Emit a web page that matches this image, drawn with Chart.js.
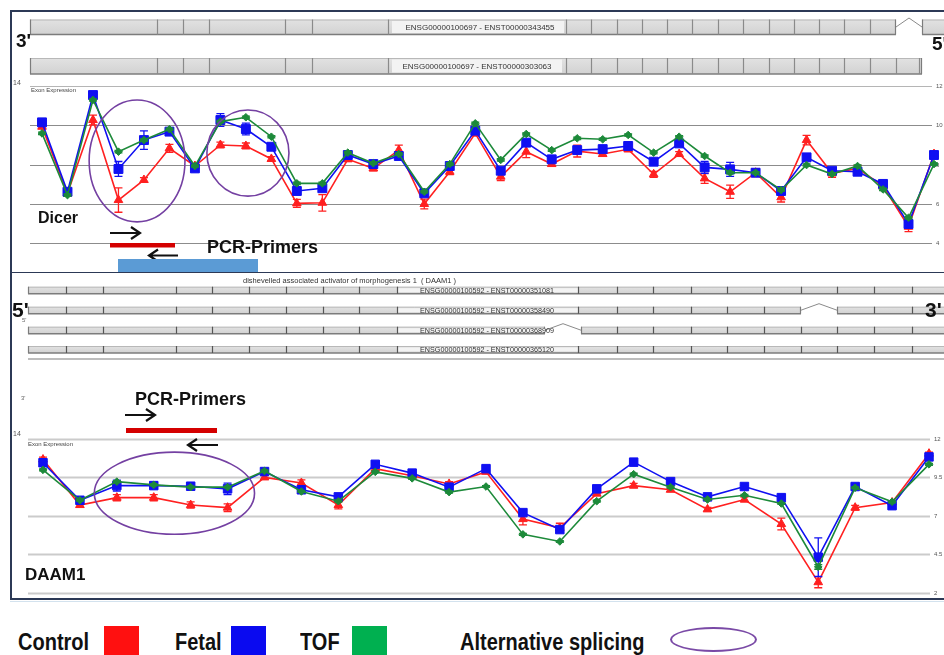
<!DOCTYPE html>
<html>
<head>
<meta charset="utf-8">
<script src="https://cdn.jsdelivr.net/npm/chart.js@4/dist/chart.umd.min.js"></script>
<style>
  html, body { margin: 0; padding: 0; background: #fff; }
  body { width: 944px; height: 655px; position: relative; overflow: hidden; font-family: "Liberation Sans", Arial, sans-serif; }
  canvas { position: absolute; left: 0; }
  #dicerCanvas { top: 0; }
  #daamCanvas { top: 272px; }
  .rule { position: absolute; background: #2c3956; z-index: 5; }
  .lg { position: absolute; top: 631px; font-weight: bold; font-size: 20px; line-height: 24px; color: #111; white-space: nowrap;
        transform: scale(1, 1.15); transform-origin: 0 19px; }
  .sw { position: absolute; top: 626px; width: 35px; height: 29px; }
  .oval { position: absolute; left: 670px; top: 627px; width: 83px; height: 21px; border: 2px solid #7a4aa6; border-radius: 50%; }
</style>
</head>
<body>
<canvas id="dicerCanvas" width="944" height="272"></canvas>
<canvas id="daamCanvas" width="944" height="328"></canvas>

<div class="rule" style="left:10px;top:10px;width:934px;height:1.5px"></div>
<div class="rule" style="left:10px;top:10px;width:1.5px;height:590px"></div>
<div class="rule" style="left:10px;top:271.5px;width:934px;height:1.5px"></div>
<div class="rule" style="left:10px;top:598px;width:934px;height:1.5px"></div>
<div style="position:absolute;left:10px;top:601px;width:934px;height:1px;background:#d3e2ee"></div>

<div class="lg" style="left:18px">Control</div>
<div class="sw" style="left:104px;background:#ff1010"></div>
<div class="lg" style="left:175px">Fetal</div>
<div class="sw" style="left:231px;background:#0a0af0"></div>
<div class="lg" style="left:300px">TOF</div>
<div class="sw" style="left:352px;background:#00b050"></div>
<div class="lg" style="left:460px">Alternative splicing</div>
<div class="oval"></div>

<script>
// ---- Dicer exon expression (36 probe sets, 3' -> 5') ----
const dicerExons = ['1','2','3','4','5','6','7','8','9','10','11','12','13','14','15','16','17','18',
                    '19','20','21','22','23','24','25','26','27','28','29','30','31','32','33','34','35','36'];
const dicerControl = [9.93, 6.54, 10.27, 6.20, 7.22, 8.83, 7.93, 9.00, 8.95, 8.29, 6.03, 6.06, 8.27, 7.81, 8.74, 6.00, 7.64, 9.59,
                      7.39, 8.66, 8.03, 8.69, 8.54, 8.78, 7.51, 8.54, 7.30, 6.62, 7.59, 6.34, 9.25, 7.56, 7.81, 6.91, 4.84, 8.54];
const dicerFetal   = [10.15, 6.62, 11.54, 7.78, 9.25, 9.68, 7.81, 10.27, 9.81, 8.91, 6.66, 6.80, 8.49, 8.03, 8.44, 6.54, 7.93, 9.73,
                      7.69, 9.12, 8.27, 8.74, 8.79, 8.95, 8.15, 9.08, 7.86, 7.76, 7.59, 6.66, 8.37, 7.69, 7.64, 7.02, 4.98, 8.49];
const dicerTOF     = [9.59, 6.45, 11.29, 8.66, 9.25, 9.80, 7.93, 10.19, 10.41, 9.42, 7.05, 7.05, 8.61, 8.07, 8.54, 6.62, 8.03, 10.10,
                      8.24, 9.56, 8.74, 9.34, 9.29, 9.51, 8.61, 9.42, 8.44, 7.59, 7.59, 6.71, 7.98, 7.52, 7.93, 6.74, 5.30, 8.03];
const dicerControlErr = [0.10, 0.10, 0.25, 0.62, 0.12, 0.20, 0.10, 0.15, 0.15, 0.12, 0.20, 0.42, 0.10, 0.12, 0.25, 0.25, 0.15, 0.12,
                         0.20, 0.30, 0.10, 0.30, 0.12, 0.12, 0.15, 0.12, 0.25, 0.34, 0.20, 0.24, 0.24, 0.20, 0.15, 0.10, 0.25, 0.10];
const dicerFetalErr   = [0.08, 0.08, 0.10, 0.38, 0.47, 0.15, 0.08, 0.32, 0.30, 0.08, 0.08, 0.10, 0.08, 0.08, 0.12, 0.08, 0.08, 0.08,
                         0.10, 0.08, 0.08, 0.08, 0.08, 0.08, 0.08, 0.08, 0.30, 0.36, 0.10, 0.08, 0.10, 0.08, 0.08, 0.08, 0.10, 0.10];
const dicerTOFErr     = [0.06, 0.06, 0.06, 0.06, 0.06, 0.06, 0.06, 0.06, 0.06, 0.06, 0.06, 0.06, 0.06, 0.06, 0.06, 0.06, 0.06, 0.06,
                         0.06, 0.06, 0.06, 0.06, 0.06, 0.06, 0.06, 0.06, 0.06, 0.06, 0.06, 0.06, 0.06, 0.06, 0.06, 0.06, 0.06, 0.06];
const dicerRightTicks = [12, 10, 8, 6, 4];

// ---- DAAM1 exon expression (25 probe sets, 5' -> 3') ----
const daamExons = ['1','2','3','4','5','6','7','8','9','10','11','12','13','14','15','16','17','18','19','20','21','22','23','24','25'];
const daamControl = [10.65, 7.70, 8.18, 8.18, 7.70, 7.53, 9.49, 9.13, 7.70, 10.06, 9.60, 9.07, 9.85,
                     6.79, 6.22, 8.44, 8.96, 8.69, 7.42, 8.06, 6.47, 2.70, 7.53, 7.87, 11.03];
const daamFetal   = [10.44, 8.01, 8.96, 8.96, 8.92, 8.75, 9.87, 8.69, 8.23, 10.34, 9.77, 8.86, 10.06,
                     7.21, 6.11, 8.75, 10.48, 9.22, 8.23, 8.90, 8.18, 4.32, 8.90, 7.66, 10.82];
const daamTOF     = [9.98, 8.01, 9.22, 9.01, 8.86, 8.86, 9.91, 8.58, 7.95, 9.85, 9.43, 8.54, 8.90,
                     5.80, 5.34, 7.95, 9.70, 8.86, 8.06, 8.33, 7.80, 3.69, 8.82, 7.91, 10.34];
const daamControlErr = [0.15, 0.12, 0.20, 0.20, 0.20, 0.25, 0.12, 0.20, 0.25, 0.12, 0.12, 0.15, 0.10,
                        0.37, 0.30, 0.10, 0.15, 0.10, 0.12, 0.15, 0.38, 0.36, 0.15, 0.10, 0.10];
const daamFetalErr   = [0.10, 0.08, 0.35, 0.20, 0.15, 0.37, 0.08, 0.08, 0.10, 0.08, 0.08, 0.10, 0.08,
                        0.08, 0.10, 0.08, 0.08, 0.08, 0.08, 0.08, 0.08, 1.25, 0.08, 0.20, 0.10];
const daamTOFErr     = [0.06, 0.06, 0.06, 0.06, 0.06, 0.06, 0.06, 0.06, 0.06, 0.06, 0.06, 0.06, 0.06,
                        0.06, 0.06, 0.06, 0.06, 0.06, 0.06, 0.06, 0.06, 0.15, 0.06, 0.06, 0.06];
const daamRightTicks = [12, 9.5, 7, 4.5, 2];

const RED = '#ff2020', BLUE = '#1010f2', GREEN = '#1d8a3a', PURPLE = '#7440a2';

function series(label, data, errors, color, style, radius, order) {
  return {
    label, data, errors, order,
    borderColor: color, backgroundColor: color,
    pointBackgroundColor: color, pointBorderColor: color,
    pointStyle: style, pointRadius: radius, pointBorderWidth: 1,
    borderWidth: 1.6, tension: 0, clip: false
  };
}

// vertical error bars with caps, drawn with each dataset
const errorBars = {
  id: 'errorBars',
  afterDatasetDraw(chart, args) {
    const ds = chart.data.datasets[args.index];
    if (!ds.errors) return;
    const y = chart.scales.y, ctx = chart.ctx;
    ctx.save();
    ctx.strokeStyle = ds.borderColor;
    ctx.lineWidth = 1.3;
    args.meta.data.forEach((pt, i) => {
      const v = ds.data[i], e = ds.errors[i];
      const yt = y.getPixelForValue(v + e), yb = y.getPixelForValue(v - e);
      ctx.beginPath();
      ctx.moveTo(pt.x, yt); ctx.lineTo(pt.x, yb);
      ctx.moveTo(pt.x - 4, yt); ctx.lineTo(pt.x + 4, yt);
      ctx.moveTo(pt.x - 4, yb); ctx.lineTo(pt.x + 4, yb);
      ctx.stroke();
    });
    ctx.restore();
  }
};

function txt(ctx, s, x, y, font, color, align) {
  ctx.font = font;
  ctx.fillStyle = color || '#111';
  ctx.textAlign = align || 'left';
  ctx.textBaseline = 'alphabetic';
  ctx.fillText(s, x, y);
}

function arrow(ctx, x0, x1, y) {
  const dir = Math.sign(x1 - x0);
  ctx.save();
  ctx.strokeStyle = '#111';
  ctx.lineWidth = 2.2;
  ctx.beginPath();
  ctx.moveTo(x0, y); ctx.lineTo(x1, y);
  ctx.moveTo(x1 - dir * 9, y - 6); ctx.lineTo(x1, y); ctx.lineTo(x1 - dir * 9, y + 6);
  ctx.stroke();
  ctx.restore();
}

// transcript model: exon boxes, intron connectors and the transcript id label
function drawTrack(ctx, t) {
  const y = t.y, h = t.h;
  const spans = [];
  let start = t.x0;
  (t.gaps || []).forEach(g => { spans.push([start, g[0]]); start = g[1]; });
  spans.push([start, t.x1]);
  ctx.save();
  spans.forEach(([a, b]) => {
    const g = ctx.createLinearGradient(0, y, 0, y + h);
    g.addColorStop(0, '#e2e2e2'); g.addColorStop(1, '#d2d2d2');
    ctx.fillStyle = g;
    ctx.fillRect(a, y, b - a, h);
    ctx.strokeStyle = '#b8b8b8'; ctx.lineWidth = 1;
    ctx.beginPath(); ctx.moveTo(a, y + 0.5); ctx.lineTo(b, y + 0.5); ctx.stroke();
    ctx.strokeStyle = '#7c7c7c'; ctx.lineWidth = 1.5;
    ctx.beginPath(); ctx.moveTo(a, y + h); ctx.lineTo(b, y + h); ctx.stroke();
    ctx.lineWidth = 1.2;
    ctx.beginPath(); ctx.moveTo(a + 0.5, y); ctx.lineTo(a + 0.5, y + h);
    ctx.moveTo(b - 0.5, y); ctx.lineTo(b - 0.5, y + h); ctx.stroke();
  });
  (t.gaps || []).forEach(([a, b]) => {
    ctx.strokeStyle = '#8a8a8a'; ctx.lineWidth = 1;
    ctx.beginPath(); ctx.moveTo(a, y + h / 2); ctx.lineTo((a + b) / 2, t.peak); ctx.lineTo(b, y + h / 2); ctx.stroke();
  });
  if (t.label) {
    ctx.fillStyle = '#f3f3f3';
    ctx.fillRect(t.lx0, y + 1.5, t.lx1 - t.lx0, h - 3);
  }
  ctx.strokeStyle = t.cutColor; ctx.lineWidth = 1.2;
  t.cuts.forEach(c => {
    if (t.label && c > t.lx0 && c < t.lx1) return;
    if ((t.gaps || []).some(g => c >= g[0] && c <= g[1])) return;
    ctx.beginPath(); ctx.moveTo(c + 0.5, y); ctx.lineTo(c + 0.5, y + h); ctx.stroke();
  });
  if (t.label) txt(ctx, t.label, t.lc, y + h / 2 + t.fs * 0.35, t.fs + 'px "Liberation Sans", Arial', '#333', 'center');
  ctx.restore();
}

function drawEllipses(chart, list) {
  const x = chart.scales.x, y = chart.scales.y, ctx = chart.ctx;
  ctx.save();
  ctx.strokeStyle = PURPLE; ctx.lineWidth = 1.6;
  list.forEach(e => {
    const cx = x.getPixelForValue(e.i), cy = y.getPixelForValue(e.v);
    const rx = x.getPixelForValue(e.i + e.ri) - cx;
    const ry = cy - y.getPixelForValue(e.v + e.rv);
    ctx.beginPath(); ctx.ellipse(cx, cy, rx, ry, 0, 0, Math.PI * 2); ctx.stroke();
  });
  ctx.restore();
}

// horizontal guide lines at the right-axis ticks, with their labels
const guides = {
  id: 'guides',
  beforeDatasetsDraw(chart, args, o) {
    const ctx = chart.ctx, y = chart.scales.y;
    ctx.save();
    o.ticks.forEach((v, k) => {
      const py = Math.round(y.getPixelForValue(v)) + 0.5;
      ctx.strokeStyle = k === 0 ? o.topColor : o.color;
      ctx.lineWidth = o.width;
      ctx.beginPath(); ctx.moveTo(o.x0, py); ctx.lineTo(o.x1, py); ctx.stroke();
      ctx.font = '6px "Liberation Sans", Arial';
      ctx.fillStyle = '#555'; ctx.textAlign = 'left'; ctx.textBaseline = 'middle';
      ctx.fillText(String(v), o.x1 + 4, py);
    });
    ctx.restore();
  }
};

const dicerDecor = {
  id: 'dicerDecor',
  beforeDraw(chart) {
    const ctx = chart.ctx;
    const cuts = [157, 183, 209, 285, 312, 388, 566, 591, 617, 642, 667, 692, 718, 743, 769, 794, 819, 844, 870];
    drawTrack(ctx, { x0: 30, x1: 950, y: 19.5, h: 15, cuts, gaps: [[896, 922]], peak: 18,
      label: 'ENSG00000100697 - ENST00000343455', lx0: 392, lx1: 564, lc: 480, fs: 8, cutColor: '#8a8a8a' });
    drawTrack(ctx, { x0: 30, x1: 922, y: 58, h: 16, cuts: cuts.concat([896, 919]),
      label: 'ENSG00000100697 - ENST00000303063', lx0: 392, lx1: 562, lc: 477, fs: 8, cutColor: '#8a8a8a' });
    txt(ctx, "3'", 16, 47, 'bold 19px "Liberation Sans", Arial', '#111');
    txt(ctx, "5'", 932, 50, 'bold 19px "Liberation Sans", Arial', '#111');
    txt(ctx, '14', 13, 85, '7px "Liberation Sans", Arial', '#555');
    txt(ctx, 'Exon Expression', 31, 92, '6px "Liberation Sans", Arial', '#444');
  },
  afterDraw(chart) {
    const ctx = chart.ctx;
    drawEllipses(chart, [
      { i: 3.73, v: 8.19, ri: 1.88, rv: 3.1 },
      { i: 8.08, v: 8.59, ri: 1.61, rv: 2.19 }
    ]);
    txt(ctx, 'Dicer', 38, 223, 'bold 16px "Liberation Sans", Arial', '#111');
    arrow(ctx, 110, 140, 233);
    ctx.fillStyle = '#d40000'; ctx.fillRect(110, 243, 65, 4.5);
    txt(ctx, 'PCR-Primers', 207, 253, 'bold 18px "Liberation Sans", Arial', '#111');
    arrow(ctx, 178, 149, 255.5);
    ctx.fillStyle = '#5b9bd5'; ctx.fillRect(118, 259, 140, 13);
  }
};

const daamDecor = {
  id: 'daamDecor',
  beforeDraw(chart) {
    const ctx = chart.ctx;
    const cuts = [66, 103, 176, 212, 249, 286, 323, 359, 397, 578, 617, 653, 691, 727, 764, 801, 837, 874, 912];
    txt(ctx, 'dishevelled associated activator of morphogenesis 1  ( DAAM1 )', 243, 11, '7.5px "Liberation Sans", Arial', '#333');
    const ids = ['ENST00000351081', 'ENST00000358490', 'ENST00000368909', 'ENST00000365120'];
    const rows = [14.7, 34.7, 54.7, 74];
    rows.forEach((ty, k) => {
      drawTrack(ctx, { x0: 28, x1: 950, y: ty, h: 7, cuts,
        gaps: k === 1 ? [[801, 837]] : (k === 2 ? [[545, 581]] : []),
        peak: ty - 3,
        label: 'ENSG00000100592 - ' + ids[k], lx0: 397, lx1: k === 2 ? 545 : 578, lc: 487, fs: 7.2, cutColor: '#555' });
    });
    ctx.fillStyle = '#bdbdbd'; ctx.fillRect(28, 86, 916, 2);
    txt(ctx, "5'", 12, 45, 'bold 21px "Liberation Sans", Arial', '#111');
    txt(ctx, "3'", 925, 45, 'bold 21px "Liberation Sans", Arial', '#111');
    txt(ctx, "5'", 22, 50, '6px "Liberation Sans", Arial', '#666');
    txt(ctx, "3'", 21, 128, '6px "Liberation Sans", Arial', '#666');
    txt(ctx, '14', 13, 164, '7px "Liberation Sans", Arial', '#555');
    txt(ctx, 'Exon Expression', 28, 173.5, '6px "Liberation Sans", Arial', '#444');
  },
  afterDraw(chart) {
    const ctx = chart.ctx;
    drawEllipses(chart, [{ i: 3.56, v: 8.47, ri: 2.17, rv: 2.66 }]);
    txt(ctx, 'PCR-Primers', 135, 133, 'bold 18px "Liberation Sans", Arial', '#111');
    arrow(ctx, 125, 155, 143);
    ctx.fillStyle = '#d40000'; ctx.fillRect(126, 156, 91, 5);
    arrow(ctx, 218, 188, 173);
    txt(ctx, 'DAAM1', 25, 308, 'bold 17px "Liberation Sans", Arial', '#111');
  }
};

function makeChart(id, labels, sets, yMin, yMax, padding, guideOpts, decor) {
  return new Chart(document.getElementById(id), {
    type: 'line',
    data: { labels, datasets: sets },
    options: {
      responsive: false, animation: false, devicePixelRatio: 1,
      layout: { padding },
      scales: {
        x: { display: false },
        y: { display: false, min: yMin, max: yMax }
      },
      plugins: { legend: { display: false }, tooltip: { enabled: false }, guides: guideOpts }
    },
    plugins: [guides, errorBars, decor]
  });
}

makeChart('dicerCanvas', dicerExons, [
  series('Control', dicerControl, dicerControlErr, RED, 'triangle', 5, 3),
  series('Fetal', dicerFetal, dicerFetalErr, BLUE, 'rect', 6.3, 2),
  series('TOF', dicerTOF, dicerTOFErr, GREEN, 'rectRot', 3.8, 1)
], 4, 12, { left: 42, right: 10, top: 86, bottom: 28.7 },
  { ticks: dicerRightTicks, x0: 30, x1: 932, color: '#8c8c8c', topColor: '#b5b5b5', width: 1 }, dicerDecor);

makeChart('daamCanvas', daamExons, [
  series('Control', daamControl, daamControlErr, RED, 'triangle', 5, 3),
  series('Fetal', daamFetal, daamFetalErr, BLUE, 'rect', 6, 2),
  series('TOF', daamTOF, daamTOFErr, GREEN, 'rectRot', 3.8, 1)
], 2, 12, { left: 43, right: 15, top: 166.7, bottom: 3.3 },
  { ticks: daamRightTicks, x0: 28, x1: 930, color: '#cbcbcb', topColor: '#cbcbcb', width: 2 }, daamDecor);
</script>
</body>
</html>
